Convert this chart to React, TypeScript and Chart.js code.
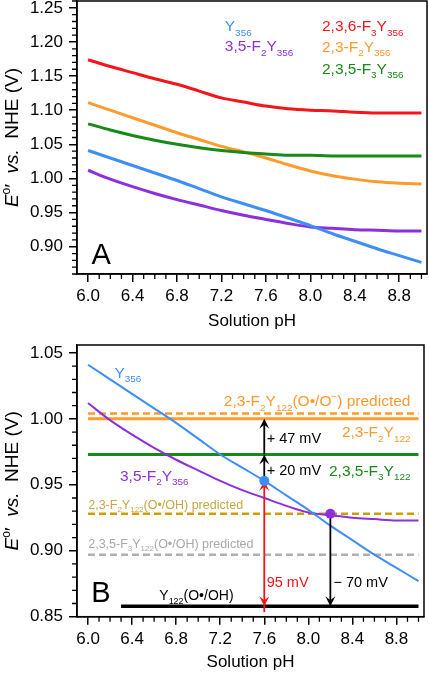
import React, { useEffect, useRef } from 'react';
import { Chart, registerables } from 'chart.js';
Chart.register(...registerables);

// ---------- data ----------
const PH = [6.0, 6.2, 6.4, 6.6, 6.8, 7.0, 7.2, 7.4, 7.6, 7.8, 8.0, 8.2, 8.4, 8.6, 8.8, 9.0];
const Y356 = [1.041, 1.030, 1.019, 1.008, 0.997, 0.985, 0.973, 0.963, 0.953, 0.942, 0.931, 0.919, 0.908, 0.897, 0.887, 0.877];
const F35_Y356 = [1.012, 0.999, 0.988, 0.978, 0.969, 0.961, 0.953, 0.946, 0.940, 0.934, 0.929, 0.927, 0.925, 0.924, 0.923, 0.923];
const F236_Y356 = [1.174, 1.164, 1.155, 1.146, 1.138, 1.128, 1.118, 1.112, 1.106, 1.102, 1.100, 1.099, 1.097, 1.096, 1.096, 1.096];
const F23_Y356 = [1.111, 1.100, 1.089, 1.078, 1.067, 1.057, 1.047, 1.039, 1.030, 1.020, 1.011, 1.004, 0.999, 0.995, 0.993, 0.992];
const F235_Y356 = [1.080, 1.071, 1.063, 1.056, 1.050, 1.045, 1.041, 1.038, 1.036, 1.034, 1.034, 1.033, 1.033, 1.033, 1.033, 1.033];

const X_TICKS = [6.0, 6.4, 6.8, 7.2, 7.6, 8.0, 8.4, 8.8];
const Y_TICKS_A = [0.90, 0.95, 1.00, 1.05, 1.10, 1.15, 1.20, 1.25];
const Y_TICKS_B = [0.85, 0.90, 0.95, 1.00, 1.05];

const LINE_SPAN = [6.0, 9.0];
const Y122_SPAN = [6.3, 9.0];
const E_23F2_PRED_OO = 1.004;
const E_23F2 = 1.000;
const E_235F3 = 0.973;
const E_23F2_PRED_OH = 0.928;
const E_235F3_PRED_OH = 0.897;
const E_Y122 = 0.858;

const MARK_PH = [7.6, 8.2];
const MARK_E = [0.953, 0.928];

// ---------- styles ----------
const FONT = '"Liberation Sans", Arial, Helvetica, sans-serif';
const RED = '#f3141c';
const ORANGE = '#ff9a2c';
const GREEN = '#178a17';
const BLUE = '#3d8ef6';
const PURPLE = '#8e2fdc';
const YELLOW = '#c9a000';
const YELLOW_T = '#c9a640';
const GRAY = '#b0b0b0';
const GRAY_T = '#a9a9a9';
const BLACK = '#000000';

type Lbl = { t: string; x: number; y: number; c?: string; size?: number; align?: 'left' | 'right' | 'center' };

const LABELS_A: Lbl[] = [
  { t: 'Y_{356}', x: 7.23, y: 1.2235, c: BLUE },
  { t: '3,5-F_{2}Y_{356}', x: 7.23, y: 1.1945, c: PURPLE },
  { t: '2,3,6-F_{3}Y_{356}', x: 8.105, y: 1.2235, c: RED },
  { t: '2,3-F_{2}Y_{356}', x: 8.105, y: 1.1935, c: ORANGE },
  { t: '2,3,5-F_{3}Y_{356}', x: 8.105, y: 1.161, c: GREEN },
  { t: 'A', x: 6.03, y: 0.8894, c: BLACK, size: 29 },
];

const LABELS_B: Lbl[] = [
  { t: 'Y_{356}', x: 6.24, y: 1.0355, c: BLUE },
  { t: '3,5-F_{2}Y_{356}', x: 6.29, y: 0.9574, c: PURPLE },
  { t: '2,3-F_{2}Y_{122}(O•/O^{−}) predicted', x: 8.927, y: 1.0137, c: ORANGE, align: 'right' },
  { t: '2,3-F_{2}Y_{122}', x: 8.927, y: 0.9902, c: ORANGE, align: 'right' },
  { t: '2,3,5-F_{3}Y_{122}', x: 8.927, y: 0.9612, c: GREEN, align: 'right' },
  { t: '+ 47 mV', x: 7.622, y: 0.9853, c: BLACK, size: 14.5 },
  { t: '+ 20 mV', x: 7.622, y: 0.9612, c: BLACK, size: 14.5 },
  { t: '2,3-F_{2}Y_{122}(O•/OH) predicted', x: 6.002, y: 0.9354, c: YELLOW_T, size: 12.5 },
  { t: '2,3,5-F_{3}Y_{122}(O•/OH) predicted', x: 6.002, y: 0.9056, c: GRAY_T, size: 12.5 },
  { t: 'Y_{122}(O•/OH)', x: 6.647, y: 0.8664, c: BLACK, size: 14 },
  { t: '95 mV', x: 7.622, y: 0.8765, c: RED, size: 14.5 },
  { t: '− 70 mV', x: 8.228, y: 0.8765, c: BLACK, size: 14.5 },
  { t: 'B', x: 6.03, y: 0.869, c: BLACK, size: 29 },
];

type Arrow = { x: number; from: number; to: number; c: string; both?: boolean };
const ARROWS_B: Arrow[] = [
  { x: MARK_PH[0], from: E_Y122, to: MARK_E[0], c: RED, both: true },
  { x: MARK_PH[0], from: MARK_E[0], to: E_235F3, c: BLACK },
  { x: MARK_PH[0], from: E_235F3, to: E_23F2, c: BLACK },
  { x: MARK_PH[1], from: MARK_E[1], to: E_Y122, c: BLACK },
];

// ---------- helpers ----------
type Seg = { t: string; k: 'n' | 'sub' | 'sup' | 'i' };
function parse(s: string): Seg[] {
  const segs: Seg[] = [];
  const re = /_\{([^}]*)\}|\^\{([^}]*)\}|\*([^*]*)\*/g;
  let last = 0;
  let m: RegExpExecArray | null;
  while ((m = re.exec(s))) {
    if (m.index > last) segs.push({ t: s.slice(last, m.index), k: 'n' });
    if (m[1] !== undefined) segs.push({ t: m[1], k: 'sub' });
    else if (m[2] !== undefined) segs.push({ t: m[2], k: 'sup' });
    else segs.push({ t: m[3], k: 'i' });
    last = re.lastIndex;
  }
  if (last < s.length) segs.push({ t: s.slice(last), k: 'n' });
  return segs;
}
function fontFor(k: string, size: number) {
  const s = k === 'sub' || k === 'sup' ? size * 0.64 : size;
  return `${k === 'i' ? 'italic ' : ''}${s}px ${FONT}`;
}
function drawRich(ctx: CanvasRenderingContext2D, s: string, x: number, y: number, size: number, color: string, align = 'left') {
  const segs = parse(s);
  let w = 0;
  for (const seg of segs) {
    ctx.font = fontFor(seg.k, size);
    w += ctx.measureText(seg.t).width;
  }
  let cx = align === 'right' ? x - w : align === 'center' ? x - w / 2 : x;
  const base = y + size * 0.36;
  ctx.fillStyle = color;
  ctx.textBaseline = 'alphabetic';
  ctx.textAlign = 'left';
  for (const seg of segs) {
    ctx.font = fontFor(seg.k, size);
    const dy = seg.k === 'sub' ? size * 0.28 : seg.k === 'sup' ? -size * 0.42 : 0;
    ctx.fillText(seg.t, cx, base + dy);
    cx += ctx.measureText(seg.t).width;
  }
}
function arrowHead(ctx: CanvasRenderingContext2D, x: number, y: number, dir: number) {
  const L = 10, W = 5, N = 6;
  ctx.beginPath();
  ctx.moveTo(x, y);
  ctx.lineTo(x - W, y - dir * L);
  ctx.lineTo(x, y - dir * N);
  ctx.lineTo(x + W, y - dir * L);
  ctx.closePath();
  ctx.fill();
}

const series = (xs: number[], ys: number[]) => xs.map((x, i) => ({ x, y: ys[i] }));
const hline = (span: number[], y: number) => span.map((x) => ({ x, y }));

function makeDecor(labels: Lbl[], arrows: Arrow[], arrowsAfterIndex: number) {
  return {
    id: 'decor',
    afterDatasetDraw(chart: any, args: any) {
      if (args.index !== arrowsAfterIndex) return;
      const ctx: CanvasRenderingContext2D = chart.ctx;
      const xs = chart.scales.x, ys = chart.scales.y;
      ctx.save();
      for (const a of arrows) {
        const px = xs.getPixelForValue(a.x);
        const p1 = ys.getPixelForValue(a.from);
        const p2 = ys.getPixelForValue(a.to);
        const dir = p2 < p1 ? -1 : 1;
        ctx.strokeStyle = a.c;
        ctx.fillStyle = a.c;
        ctx.lineWidth = 1.8;
        ctx.beginPath();
        ctx.moveTo(px, a.both ? p1 - dir * 6 : p1);
        ctx.lineTo(px, p2 - dir * 6);
        ctx.stroke();
        arrowHead(ctx, px, p2, dir);
        if (a.both) arrowHead(ctx, px, p1, -dir);
      }
      ctx.restore();
    },
    afterDraw(chart: any) {
      const ctx: CanvasRenderingContext2D = chart.ctx;
      const { left, right, top, bottom } = chart.chartArea;
      const xs = chart.scales.x, ys = chart.scales.y;
      ctx.save();
      ctx.strokeStyle = BLACK;
      ctx.lineWidth = 1.5;
      ctx.strokeRect(left, top, right - left, bottom - top);
      ctx.lineWidth = 1.3;
      ctx.beginPath();
      for (let i = 60; i <= 90; i++) {
        if ((i - 60) % 4 === 0) continue;
        const px = xs.getPixelForValue(i / 10);
        ctx.moveTo(px, bottom);
        ctx.lineTo(px, bottom + 5);
      }
      const lo = Math.ceil(ys.min * 100 - 1e-6), hi = Math.floor(ys.max * 100 + 1e-6);
      for (let v = lo; v <= hi; v++) {
        if (v % 5 === 0) continue;
        const py = ys.getPixelForValue(v / 100);
        ctx.moveTo(left - 5, py);
        ctx.lineTo(left, py);
      }
      ctx.stroke();
      ctx.save();
      ctx.translate(11, (top + bottom) / 2);
      ctx.rotate(-Math.PI / 2);
      drawRich(ctx, '*E*^{o}′  *vs.*  NHE (V)', 0, 0, 19, BLACK, 'center');
      ctx.restore();
      for (const l of labels) {
        drawRich(ctx, l.t, xs.getPixelForValue(l.x), ys.getPixelForValue(l.y), l.size ?? 15.5, l.c ?? BLACK, l.align ?? 'left');
      }
      ctx.restore();
    },
  };
}

function scales(yMin: number, yMax: number, yTicks: number[], xHeight: number) {
  return {
    x: {
      type: 'linear',
      min: 5.9,
      max: 9.05,
      afterBuildTicks: (s: any) => { s.ticks = X_TICKS.map((v) => ({ value: v })); },
      afterFit: (s: any) => { s.height = xHeight; s.paddingLeft = 0; s.paddingRight = 0; },
      ticks: { callback: (v: any) => Number(v).toFixed(1), font: { family: FONT, size: 17 }, color: BLACK, padding: 4, maxRotation: 0, autoSkip: false },
      grid: { drawOnChartArea: false, drawTicks: true, tickLength: 8, color: BLACK, lineWidth: 1.5 },
      border: { display: true, color: BLACK, width: 1.5 },
      title: { display: true, text: 'Solution pH', font: { family: FONT, size: 17, lineHeight: 1 }, color: BLACK, padding: 0 },
    },
    y: {
      type: 'linear',
      min: yMin,
      max: yMax,
      afterBuildTicks: (s: any) => { s.ticks = yTicks.map((v) => ({ value: v })); },
      afterFit: (s: any) => { s.width = 77; s.paddingTop = 0; s.paddingBottom = 0; },
      ticks: { callback: (v: any) => Number(v).toFixed(2), font: { family: FONT, size: 17 }, color: BLACK, padding: 6, autoSkip: false },
      grid: { drawOnChartArea: false, drawTicks: true, tickLength: 8, color: BLACK, lineWidth: 1.5 },
      border: { display: true, color: BLACK, width: 1.5 },
    },
  };
}

const curve = (ys: number[], color: string, w: number) => ({
  data: series(PH, ys), borderColor: color, borderWidth: w, pointRadius: 0, cubicInterpolationMode: 'monotone', fill: false,
});
const flat = (span: number[], y: number, color: string, w: number, dash?: number[]) => ({
  data: hline(span, y), borderColor: color, borderWidth: w, pointRadius: 0, fill: false, borderDash: dash ?? [], tension: 0,
});
const dot = (x: number, y: number, color: string) => ({
  data: [{ x, y }], showLine: false, pointRadius: 5, pointBackgroundColor: color, pointBorderColor: color, pointBorderWidth: 0,
});

function configA(): any {
  return {
    type: 'line',
    data: {
      datasets: [
        curve(Y356, BLUE, 3),
        curve(F35_Y356, PURPLE, 3),
        curve(F235_Y356, GREEN, 3),
        curve(F23_Y356, ORANGE, 3),
        curve(F236_Y356, RED, 3),
      ],
    },
    options: {
      responsive: false, animation: false, events: [],
      layout: { padding: { left: 0, right: 2, top: 1, bottom: 0 } },
      plugins: { legend: { display: false }, tooltip: { enabled: false } },
      scales: scales(0.86, 1.26, Y_TICKS_A, 56),
    },
    plugins: [makeDecor(LABELS_A, [], -1)],
  };
}

function configB(): any {
  return {
    type: 'line',
    data: {
      datasets: [
        dot(MARK_PH[0], MARK_E[0], BLUE),
        dot(MARK_PH[1], MARK_E[1], PURPLE),
        curve(Y356, BLUE, 2),
        curve(F35_Y356, PURPLE, 2),
        flat(Y122_SPAN, E_Y122, BLACK, 3.5),
        flat(LINE_SPAN, E_235F3_PRED_OH, GRAY, 2.5, [7, 4]),
        flat(LINE_SPAN, E_23F2_PRED_OH, YELLOW, 2.5, [7, 4]),
        flat(LINE_SPAN, E_235F3, GREEN, 3),
        flat(LINE_SPAN, E_23F2, ORANGE, 3),
        flat(LINE_SPAN, E_23F2_PRED_OO, ORANGE, 2.5, [7, 4]),
      ],
    },
    options: {
      responsive: false, animation: false, events: [],
      layout: { padding: { left: 0, right: 2, top: 15, bottom: 4 } },
      plugins: { legend: { display: false }, tooltip: { enabled: false } },
      scales: scales(0.85, 1.056, Y_TICKS_B, 54.3),
    },
    plugins: [makeDecor(LABELS_B, ARROWS_B, 2)],
  };
}

function Panel({ top, height, make }: { top: number; height: number; make: () => any }) {
  const ref = useRef<HTMLCanvasElement | null>(null);
  useEffect(() => {
    if (!ref.current) return;
    const chart = new Chart(ref.current, make());
    return () => chart.destroy();
  }, [make]);
  return (
    <canvas
      ref={ref}
      width={429}
      height={height}
      style={{ position: 'absolute', left: 0, top, width: 429, height, display: 'block' }}
    />
  );
}

export default function App() {
  return (
    <div style={{ position: 'absolute', left: 0, top: 0, width: 429, height: 675, background: '#fff', overflow: 'hidden' }}>
      <Panel top={0} height={330} make={configA} />
      <Panel top={330} height={345} make={configB} />
    </div>
  );
}
